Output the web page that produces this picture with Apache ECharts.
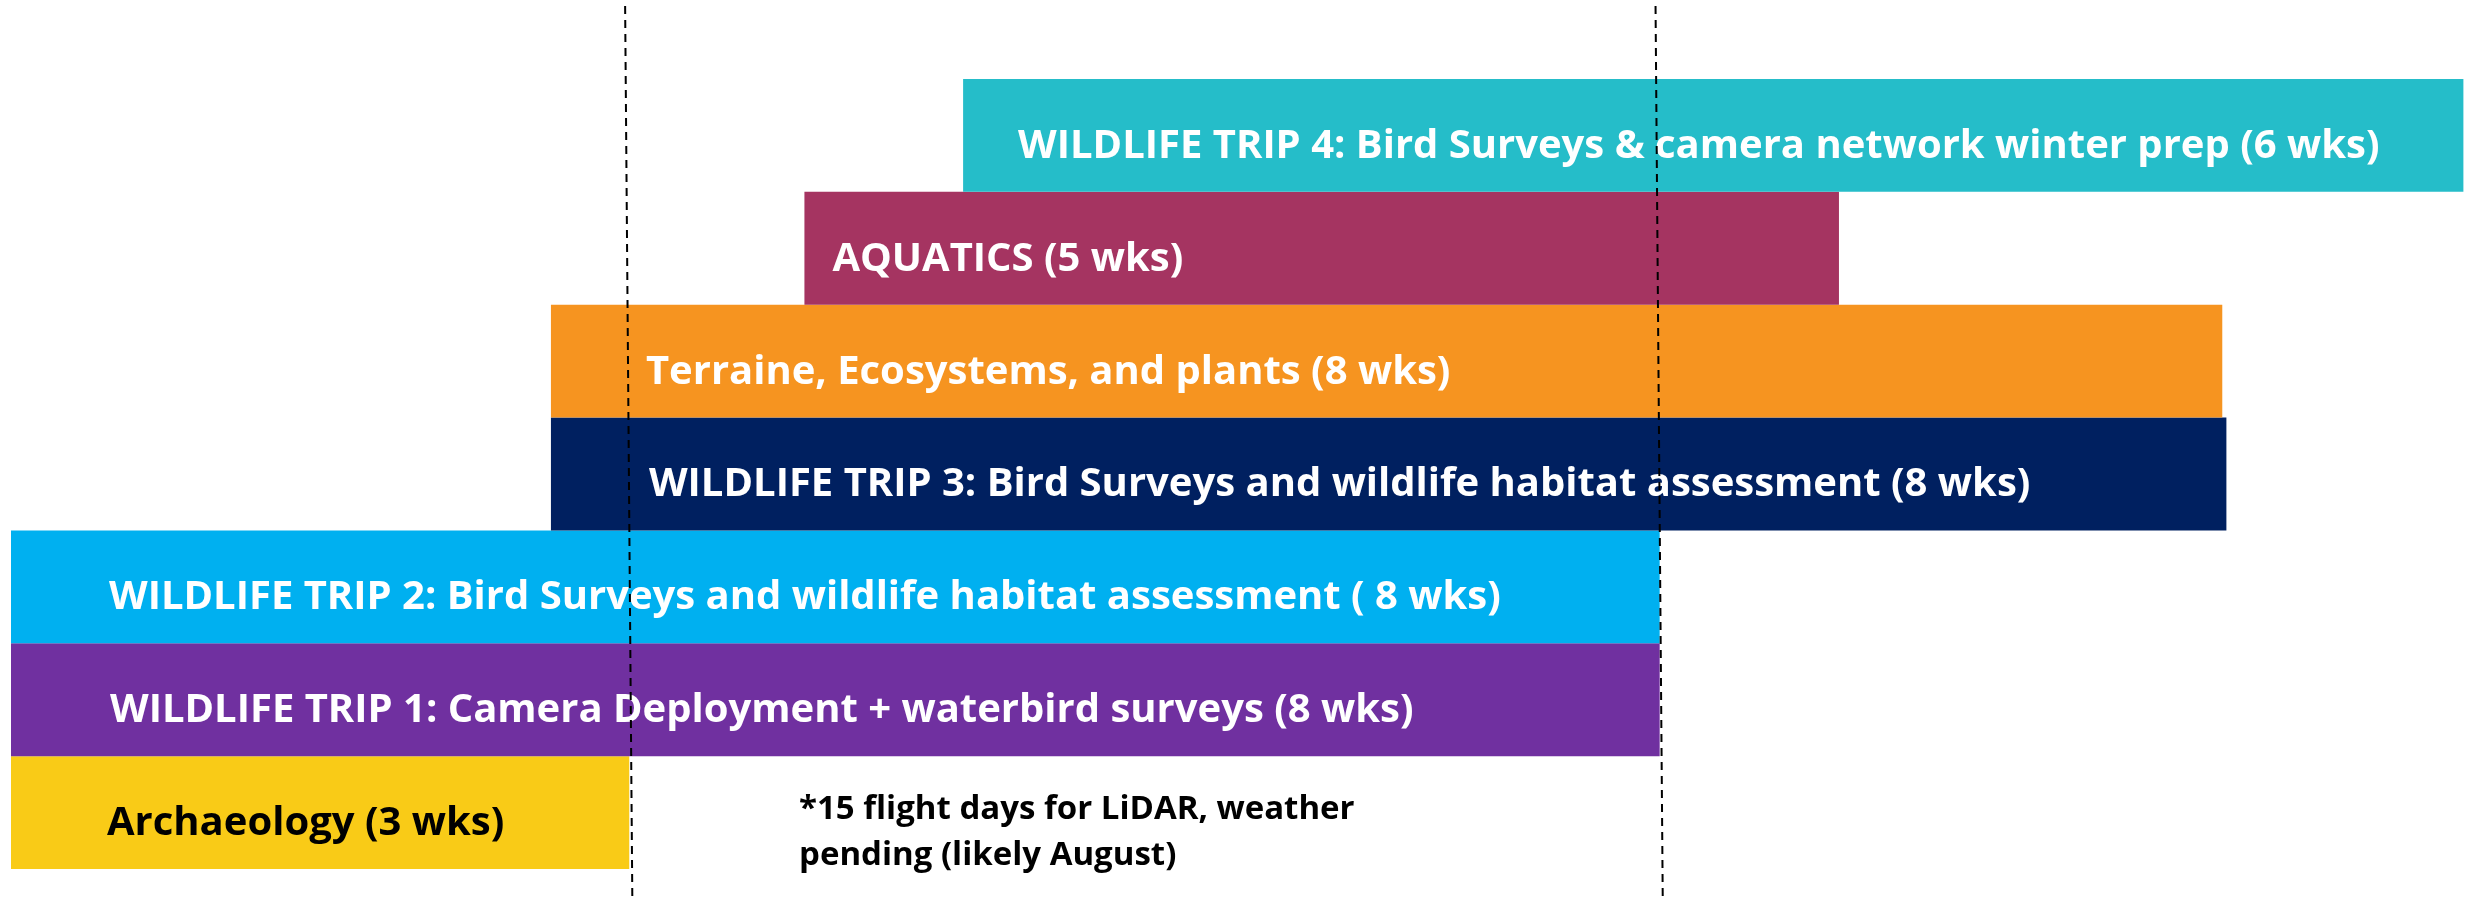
<!DOCTYPE html>
<html>
<head>
<meta charset="utf-8">
<title>Field season schedule</title>
<script src="https://cdn.jsdelivr.net/npm/echarts@6/dist/echarts.min.js"></script>
<style>
  html, body { margin: 0; padding: 0; background: #fff; }
  #chart { width: 2484px; height: 901px; }
</style>
</head>
<body>
<div id="chart"></div>
<script>
// rows from bottom to top
const tasks = [
  'Archaeology (3 wks)',
  'WILDLIFE TRIP 1: Camera Deployment + waterbird surveys (8 wks)',
  'WILDLIFE TRIP 2: Bird Surveys and wildlife habitat assessment ( 8 wks)',
  'WILDLIFE TRIP 3: Bird Surveys and wildlife habitat assessment (8 wks)',
  'Terraine, Ecosystems, and plants (8 wks)',
  'AQUATICS (5 wks)',
  'WILDLIFE TRIP 4: Bird Surveys & camera network winter prep (6 wks)'
];
// start / end in weeks from the start of the season
const startWeek = [0, 0, 0, 2.62, 2.62, 3.85, 4.62];
const endWeek = [3, 8, 8, 10.75, 10.73, 8.87, 11.9];
// the two dashed markers (weeks)
const markerWeeks = [3, 8];
const noteLines = ['*15 flight days for LiDAR, weather', 'pending (likely August)'];

// styling
const barColors = ['#F9CB17', '#7030A0', '#00B0F0', '#002060', '#F69420', '#A53461', '#25BDC9'];
const labelColors = ['#000', '#fff', '#fff', '#fff', '#fff', '#fff', '#fff'];
const labelInset = [96, 99, 98, 98, 95, 28, 55];

const chart = echarts.init(document.getElementById('chart'));

const durations = tasks.map((t, i) => +(endWeek[i] - startWeek[i]).toFixed(2));

chart.setOption({
  animation: false,
  grid: { left: 11, right: 0, top: 79, bottom: 32 },
  xAxis: {
    type: 'value', min: 0, max: 12,
    show: false
  },
  yAxis: {
    type: 'category', data: tasks,
    show: false
  },
  series: [
    {
      // invisible offset so bars start at their week
      type: 'bar', stack: 'plan',
      data: startWeek,
      itemStyle: { color: 'transparent' },
      barCategoryGap: 0,
      silent: true
    },
    {
      type: 'bar', stack: 'plan',
      barCategoryGap: 0,
      data: durations.map((d, i) => ({
        value: d,
        itemStyle: { color: barColors[i] },
        label: {
          show: true,
          position: 'insideLeft',
          distance: labelInset[i],
          offset: [0, 11],
          color: labelColors[i],
          formatter: '{b}',
          fontFamily: 'Open Sans',
          fontWeight: 'bold',
          fontSize: 40
        }
      })),
      markLine: {
        silent: true,
        symbol: 'none',
        label: { show: false },
        lineStyle: { color: '#000', width: 2, type: [8, 6] },
        data: markerWeeks.map(w => [
          { xAxis: w - 0.02, y: 6 },
          { xAxis: w + 0.015, y: 901 }
        ])
      }
    }
  ],
  graphic: [{
    type: 'text',
    left: 799, top: 787,
    style: {
      text: noteLines.join('\n'),
      fill: '#000',
      font: 'bold 33px "Open Sans"',
      lineHeight: 46
    }
  }]
});
</script>
</body>
</html>
